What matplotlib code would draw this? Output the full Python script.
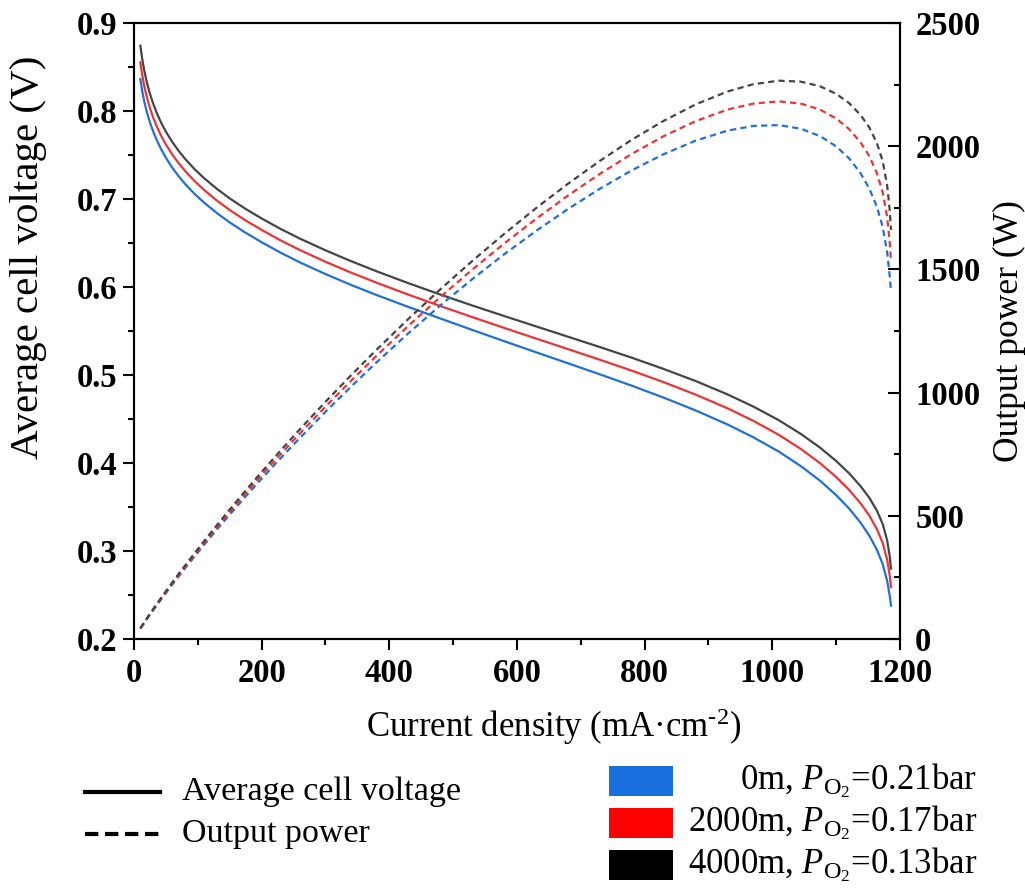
import matplotlib
matplotlib.use("Agg")
import matplotlib.pyplot as plt
from matplotlib.lines import Line2D
from matplotlib.patches import Rectangle
from matplotlib.ticker import MultipleLocator

plt.rcParams["font.family"] = ["Liberation Serif", "DejaVu Serif"]
plt.rcParams["mathtext.fontset"] = "custom"
plt.rcParams["mathtext.rm"] = "Liberation Serif"
plt.rcParams["mathtext.it"] = "Liberation Serif:italic"
plt.rcParams["mathtext.bf"] = "Liberation Serif:bold"

# current density (mA cm-2)
current = [10, 13, 16, 20, 25, 30, 36, 43, 50, 60, 70, 80, 95, 110, 130, 150, 175, 200,
           230, 260, 300, 340, 380, 430, 480, 530, 580, 630, 680, 730, 780, 830, 880,
           930, 970, 1010, 1045, 1075, 1100, 1120, 1138, 1152, 1164, 1173, 1180, 1184,
           1186]

# average cell voltage (V)
v_0m = [0.8364, 0.8225, 0.8114, 0.7995, 0.7873, 0.7770, 0.7666, 0.7560, 0.7470, 0.7357,
        0.7260, 0.7173, 0.7059, 0.6959, 0.6841, 0.6735, 0.6617, 0.6510, 0.6390, 0.6281,
        0.6148, 0.6025, 0.5910, 0.5774, 0.5643, 0.5513, 0.5385, 0.5259, 0.5134, 0.5008,
        0.4879, 0.4743, 0.4598, 0.4438, 0.4294, 0.4131, 0.3964, 0.3798, 0.3636, 0.3486,
        0.3325, 0.3175, 0.3013, 0.2851, 0.2660, 0.2489, 0.2380]
v_2000m = [0.8554, 0.8407, 0.8289, 0.8163, 0.8035, 0.7928, 0.7821, 0.7713, 0.7621, 0.7507,
           0.7409, 0.7321, 0.7205, 0.7103, 0.6983, 0.6876, 0.6757, 0.6650, 0.6530, 0.6421,
           0.6288, 0.6165, 0.6050, 0.5914, 0.5785, 0.5659, 0.5536, 0.5415, 0.5295, 0.5174,
           0.5050, 0.4919, 0.4778, 0.4622, 0.4481, 0.4322, 0.4159, 0.3998, 0.3842, 0.3698,
           0.3545, 0.3403, 0.3248, 0.3091, 0.2900, 0.2719, 0.2590]
v_4000m = [0.8744, 0.8590, 0.8466, 0.8333, 0.8198, 0.8086, 0.7974, 0.7862, 0.7767, 0.7649,
           0.7548, 0.7458, 0.7340, 0.7237, 0.7116, 0.7008, 0.6888, 0.6780, 0.6660, 0.6551,
           0.6418, 0.6295, 0.6180, 0.6044, 0.5915, 0.5791, 0.5671, 0.5553, 0.5436, 0.5318,
           0.5197, 0.5069, 0.4932, 0.4780, 0.4643, 0.4488, 0.4330, 0.4174, 0.4024, 0.3886,
           0.3740, 0.3605, 0.3458, 0.3306, 0.3120, 0.2939, 0.2800]

# output power (W)
p_0m = [41.8, 53.5, 64.9, 80.0, 98.4, 116.6, 138.0, 162.5, 186.8, 220.7, 254.1, 286.9,
        335.3, 382.7, 444.7, 505.1, 579.0, 651.0, 734.9, 816.5, 922.2, 1024.3, 1122.9,
        1241.4, 1354.3, 1460.9, 1561.7, 1656.6, 1745.6, 1827.9, 1902.8, 1968.3, 2023.1,
        2063.7, 2082.6, 2086.2, 2071.2, 2041.4, 1999.8, 1952.2, 1891.9, 1828.8, 1753.6,
        1672.1, 1569.4, 1473.5, 1411.3]
p_2000m = [42.8, 54.6, 66.3, 81.6, 100.4, 118.9, 140.8, 165.8, 190.5, 225.2, 259.3, 292.8,
           342.2, 390.7, 453.9, 515.7, 591.2, 665.0, 751.0, 834.7, 943.2, 1048.1, 1149.5,
           1271.5, 1388.4, 1499.6, 1605.4, 1705.7, 1800.3, 1888.5, 1969.5, 2041.4, 2102.3,
           2149.2, 2173.3, 2182.6, 2173.1, 2148.9, 2113.1, 2070.9, 2017.1, 1960.1, 1890.3,
           1812.9, 1711.0, 1609.6, 1535.9]
p_4000m = [43.7, 55.8, 67.7, 83.3, 102.5, 121.3, 143.5, 169.0, 194.2, 229.5, 264.2, 298.3,
           348.7, 398.0, 462.5, 525.6, 602.7, 678.0, 765.9, 851.6, 962.7, 1070.2, 1174.2,
           1299.5, 1419.6, 1534.6, 1644.6, 1749.2, 1848.2, 1941.1, 2026.8, 2103.6, 2170.1,
           2222.7, 2251.9, 2266.4, 2262.4, 2243.5, 2213.2, 2176.2, 2128.1, 2076.5, 2012.6,
           1939.0, 1840.8, 1739.9, 1660.4]

line_colors = ["#1f6fdc", "#ec3434", "#454545"]
patch_colors = ["#1a6fdf", "#ff0000", "#000000"]
case_labels = [r"0m, $P_{\mathrm{O_2}}$=0.21bar",
               r"2000m, $P_{\mathrm{O_2}}$=0.17bar",
               r"4000m, $P_{\mathrm{O_2}}$=0.13bar"]
kind_labels = ["Average cell voltage", "Output power"]

fig = plt.figure(figsize=(10.25, 8.9), dpi=100)
ax = fig.add_axes([0.1307, 0.282, 0.7473, 0.692])
ax2 = ax.twinx()

for v, c in zip([v_0m, v_2000m, v_4000m], line_colors):
    ax.plot(current, v, color=c, lw=1.6)
for p, c in zip([p_0m, p_2000m, p_4000m], line_colors):
    ax2.plot(current, p, color=c, lw=1.6, dashes=(2.8, 1.9))

ax.set_xlim(0, 1200)
ax.set_ylim(0.2, 0.9)
ax2.set_ylim(0, 2500)
ax.xaxis.set_major_locator(MultipleLocator(200))
ax.xaxis.set_minor_locator(MultipleLocator(100))
ax.yaxis.set_major_locator(MultipleLocator(0.1))
ax.yaxis.set_minor_locator(MultipleLocator(0.05))
ax2.yaxis.set_major_locator(MultipleLocator(500))
ax2.yaxis.set_minor_locator(MultipleLocator(250))
ax.yaxis.set_major_formatter(plt.FuncFormatter(lambda x, _: f"{x:.1f}"))

for a in (ax, ax2):
    for s in a.spines.values():
        s.set_linewidth(1.5)
ax.tick_params(which="major", direction="out", length=8, width=1.5, labelsize=23.5, pad=4)
ax.tick_params(which="minor", direction="out", length=4, width=1.5)
ax.tick_params(axis="x", pad=6)
ax2.tick_params(which="major", direction="in", length=9, width=1.5, labelsize=23.5, pad=11)
ax2.tick_params(which="minor", direction="in", length=4.5, width=1.5)
for lab in ax.get_xticklabels() + ax.get_yticklabels() + ax2.get_yticklabels():
    lab.set_fontweight("bold")

ax.set_xlabel(r"Current density (mA·cm$^{\text{-2}}$)", fontsize=25)
ax.set_ylabel("Average cell voltage (V)", fontsize=29.5)
ax2.set_ylabel("Output power (W)", fontsize=25.5)
ax.xaxis.set_label_coords(0.548, -0.11)
ax.yaxis.set_label_coords(-0.113, 0.62)
ax2.yaxis.set_label_coords(1.121, 0.5)

# line-style legend (lower left)
for i, (lab, ls) in enumerate(zip(kind_labels, ["-", (0, (3.2, 1.6))])):
    y = 0.110 - i * 0.0472
    fig.add_artist(Line2D([0.083, 0.156], [y, y], transform=fig.transFigure,
                          color="black", lw=3, linestyle=ls))
    fig.text(0.1776, y, lab, fontsize=24.5, va="center", ha="left")

# colour legend (lower right)
for i, (lab, c) in enumerate(zip(case_labels, patch_colors)):
    yb = 0.1056 - i * 0.0472
    fig.add_artist(Rectangle((0.594, yb), 0.0626, 0.0337, transform=fig.transFigure,
                             facecolor=c, edgecolor="none"))
    fig.text(0.953, yb + 0.0169, lab, fontsize=25, va="center", ha="right")

fig.savefig("out.png", dpi=100)
